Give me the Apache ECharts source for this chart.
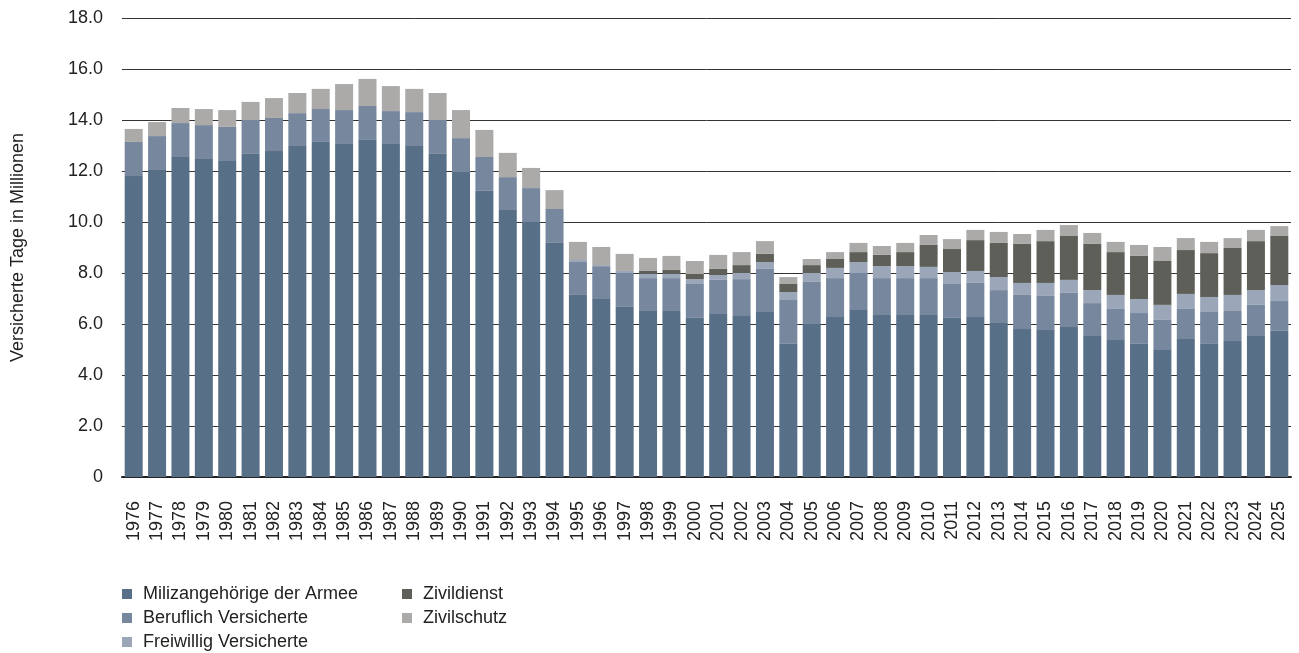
<!DOCTYPE html>
<html>
<head>
<meta charset="utf-8">
<script src="https://cdn.jsdelivr.net/npm/echarts@6/dist/echarts.min.js"></script>
<style>
html,body{margin:0;padding:0;background:#fff;}
#chart{width:1299px;height:653px;}
</style>
</head>
<body>
<div id="chart"></div>
<script>
// Jahre
var years=['1976','1977','1978','1979','1980','1981','1982','1983','1984','1985','1986','1987','1988','1989','1990','1991','1992','1993','1994','1995','1996','1997','1998','1999','2000','2001','2002','2003','2004','2005','2006','2007','2008','2009','2010','2011','2012','2013','2014','2015','2016','2017','2018','2019','2020','2021','2022','2023','2024','2025'];

// Versicherte Tage in Millionen, pro Gruppe
var miliz=[11.80,12.04,12.55,12.47,12.39,12.67,12.78,12.98,13.14,13.06,13.25,13.06,12.98,12.67,11.96,11.22,10.47,10.00,9.18,7.14,6.98,6.67,6.51,6.51,6.24,6.39,6.31,6.47,5.22,6.00,6.27,6.55,6.35,6.35,6.35,6.24,6.27,6.04,5.80,5.76,5.88,5.53,5.37,5.22,4.98,5.41,5.25,5.33,5.53,5.73];
var beruflich=[1.34,1.33,1.33,1.33,1.34,1.33,1.30,1.29,1.29,1.33,1.30,1.29,1.33,1.33,1.33,1.33,1.29,1.33,1.33,1.29,1.29,1.33,1.29,1.29,1.33,1.34,1.45,1.69,1.72,1.65,1.53,1.45,1.45,1.45,1.45,1.33,1.34,1.29,1.34,1.34,1.34,1.29,1.22,1.21,1.18,1.18,1.22,1.18,1.22,1.17];
var freiwillig=[0,0,0,0,0,0,0,0,0,0,0,0,0,0,0,0,0,0,0,0.08,0.04,0.08,0.16,0.16,0.19,0.19,0.24,0.27,0.31,0.35,0.40,0.43,0.47,0.47,0.44,0.47,0.47,0.51,0.47,0.51,0.51,0.51,0.55,0.55,0.59,0.59,0.59,0.63,0.58,0.63];
var zivildienst=[0,0,0,0,0,0,0,0,0,0,0,0,0,0,0,0,0,0,0,0,0,0,0.12,0.16,0.20,0.24,0.31,0.32,0.32,0.31,0.35,0.39,0.44,0.55,0.86,0.90,1.21,1.34,1.53,1.64,1.72,1.81,1.68,1.69,1.72,1.72,1.72,1.84,1.92,1.92];
var zivilschutz=[0.51,0.55,0.59,0.63,0.66,0.71,0.78,0.79,0.79,1.02,1.06,0.98,0.91,1.06,1.10,1.06,0.95,0.79,0.74,0.71,0.71,0.67,0.51,0.55,0.51,0.55,0.51,0.50,0.27,0.24,0.27,0.36,0.35,0.36,0.39,0.39,0.40,0.43,0.39,0.44,0.43,0.43,0.40,0.43,0.55,0.47,0.44,0.39,0.44,0.39];

var font='"Liberation Sans", Arial, sans-serif';

function ser(name,data,color){
	return {
		name:name,
		type:'bar',
		stack:'total',
		barCategoryGap:'23%',
		itemStyle:{color:color},
		emphasis:{disabled:true},
		data:data
	};
}

function leg(left,names){
	return {
		left:left,top:585,orient:'vertical',padding:0,height:75,
		icon:'rect',itemWidth:10,itemHeight:10,itemGap:6,
		textStyle:{fontSize:18,color:'#222',fontFamily:font,padding:[0,0,0,6]},
		data:names
	};
}

var chart=echarts.init(document.getElementById('chart'));
chart.setOption({
	animation:false,
	textStyle:{fontFamily:font},
	grid:{left:122,right:8,top:18,bottom:176},
	legend:[
		leg(122,['Milizangehörige der Armee','Beruflich Versicherte','Freiwillig Versicherte']),
		leg(402,['Zivildienst','Zivilschutz'])
	],
	xAxis:{
		type:'category',
		data:years,
		axisTick:{show:false},
		axisLine:{lineStyle:{color:'#222',width:2}},
		axisLabel:{rotate:90,margin:24,fontSize:18,color:'#222',fontFamily:font,interval:0}
	},
	yAxis:{
		type:'value',
		min:0,max:18,interval:2,
		name:'Versicherte Tage in Millionen',
		nameLocation:'middle',
		nameGap:95,
		nameTextStyle:{fontSize:18,color:'#222',fontFamily:font},
		axisLabel:{margin:19,fontSize:18,color:'#222',fontFamily:font,
			formatter:function(v){return v===0?'0':v.toFixed(1);}},
		splitLine:{lineStyle:{color:'#333',width:1}}
	},
	series:[
		ser('Milizangehörige der Armee',miliz,'#586f88'),
		ser('Beruflich Versicherte',beruflich,'#76879e'),
		ser('Freiwillig Versicherte',freiwillig,'#9ba6b9'),
		ser('Zivildienst',zivildienst,'#5f5f59'),
		ser('Zivilschutz',zivilschutz,'#abaaa8')
	]
});
</script>
</body>
</html>
